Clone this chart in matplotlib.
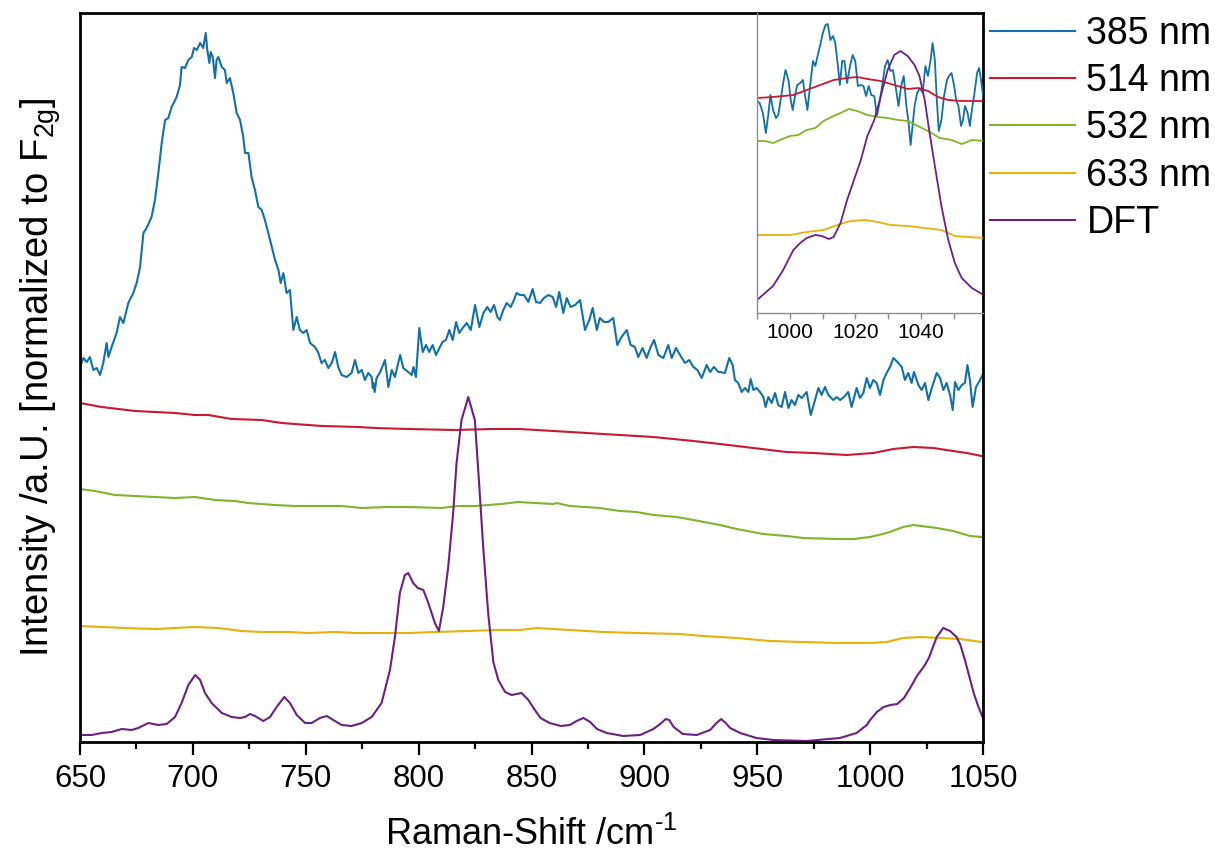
import matplotlib
matplotlib.use("Agg")
import matplotlib.pyplot as plt
from matplotlib.ticker import MultipleLocator

plt.rcParams['font.family'] = ['Liberation Sans', 'DejaVu Sans']
plt.rcParams['mathtext.fontset'] = 'custom'
plt.rcParams['mathtext.rm'] = 'Liberation Sans'
plt.rcParams['mathtext.it'] = 'Liberation Sans:italic'

# ---- main panel: spectra (offset, arbitrary units) ----
x_385 = [650.0, 651.5, 653.0, 654.4, 655.9, 657.4, 658.9, 660.3, 661.8, 662.6, 664.0, 666.2,
         667.7, 669.2, 671.4, 673.6, 675.1, 676.6, 678.1, 679.5, 681.7, 683.2, 684.7, 686.2,
         687.7, 689.1, 690.6, 692.8, 694.3, 695.0, 696.5, 698.0, 699.5, 700.5, 701.7, 703.2,
         704.6, 705.7, 706.4, 707.3, 707.9, 708.8, 709.8, 710.5, 711.3, 712.8, 714.2, 715.0,
         716.4, 717.9, 719.4, 720.9, 722.3, 723.1, 724.6, 726.0, 727.5, 729.0, 730.5, 731.9,
         734.2, 736.4, 737.9, 738.9, 740.1, 741.5, 743.0, 744.5, 746.0, 747.4, 748.9, 750.4,
         751.9, 754.1, 755.6, 757.0, 758.5, 760.0, 761.5, 763.0, 764.4, 765.9, 768.1, 770.3,
         771.8, 773.3, 774.8, 776.2, 777.7, 779.2, 779.7, 779.9, 780.5, 781.4, 783.0, 785.1,
         786.6, 788.1, 789.5, 791.8, 793.2, 795.4, 796.9, 797.7, 798.8, 800.3, 801.8, 803.3,
         804.7, 806.2, 807.7, 809.2, 810.6, 812.1, 813.6, 815.1, 816.6, 818.0, 819.5, 821.3,
         823.1, 825.0, 826.9, 828.7, 830.4, 831.9, 833.4, 834.9, 836.0, 837.5, 839.0, 840.8,
         842.2, 843.4, 844.9, 846.7, 848.6, 850.5, 852.0, 853.8, 855.5, 857.5, 859.4, 860.9,
         862.3, 864.1, 865.6, 867.3, 869.3, 871.5, 873.7, 875.6, 877.1, 878.9, 880.3, 882.1,
         884.0, 886.2, 888.0, 889.9, 892.2, 893.9, 895.8, 897.3, 899.2, 901.0, 902.8, 904.3,
         906.2, 908.4, 910.6, 912.1, 914.0, 915.8, 918.0, 919.9, 921.7, 923.5, 925.4, 927.6,
         929.1, 930.8, 932.8, 933.5, 935.7, 937.6, 939.1, 940.1, 941.6, 943.1, 944.6, 946.1,
         947.1, 948.3, 949.7, 951.2, 952.7, 953.7, 954.9, 956.4, 957.9, 959.3, 960.8, 962.3,
         963.8, 965.2, 966.7, 968.2, 969.7, 971.9, 973.7, 975.6, 977.1, 978.5, 980.0, 981.5,
         983.7, 985.2, 986.7, 988.4, 990.3, 991.8, 994.0, 995.5, 997.0, 998.5, 999.9, 1001.4,
         1002.9, 1004.4, 1005.9, 1007.3, 1008.8, 1010.3, 1012.1, 1014.0, 1015.4, 1016.9, 1018.4, 1019.4,
         1021.4, 1022.8, 1024.3, 1025.8, 1027.3, 1029.5, 1031.0, 1032.4, 1033.9, 1035.4, 1036.6, 1037.6,
         1039.1, 1040.6, 1042.0, 1043.1, 1044.2, 1045.4, 1046.9, 1048.7, 1050.0]
y_385 = [375, 384, 380, 385, 372, 374, 367, 379, 399, 385, 395, 409,
         425, 419, 439, 449, 459, 475, 509, 514, 525, 542, 569, 599,
         622, 624, 635, 645, 657, 675, 674, 682, 685, 694, 692, 699,
         694, 709, 692, 679, 690, 685, 664, 682, 685, 675, 672, 659,
         664, 649, 629, 622, 605, 589, 589, 565, 552, 535, 532, 522,
         502, 482, 472, 459, 469, 449, 452, 412, 425, 412, 409, 412,
         399, 395, 389, 379, 382, 374, 379, 390, 375, 367, 365, 369,
         382, 369, 372, 362, 369, 365, 354, 359, 350, 364, 370, 382,
         355, 372, 365, 387, 374, 370, 367, 375, 365, 414, 390, 397,
         390, 397, 387, 394, 400, 402, 412, 402, 420, 409, 414, 419,
         412, 437, 415, 429, 435, 430, 437, 425, 422, 432, 439, 435,
         442, 449, 447, 447, 440, 453, 440, 439, 444, 447, 445, 435,
         450, 429, 444, 435, 437, 442, 412, 422, 434, 412, 424, 420,
         420, 424, 397, 405, 412, 397, 395, 385, 394, 384, 395, 402,
         387, 384, 397, 384, 394, 387, 379, 382, 375, 372, 364, 377,
         370, 375, 370, 370, 369, 384, 377, 362, 359, 350, 354, 350,
         363, 352, 354, 350, 345, 335, 345, 339, 349, 337, 335, 350,
         334, 342, 337, 347, 344, 350, 327, 342, 354, 347, 355, 347,
         342, 345, 342, 345, 350, 335, 354, 344, 349, 364, 354, 362,
         359, 347, 362, 369, 375, 384, 380, 375, 362, 369, 359, 370,
         357, 352, 359, 342, 354, 369, 364, 352, 359, 347, 332, 360,
         352, 357, 359, 377, 362, 335, 355, 362, 368]

x_514 = [650.0, 659.6, 674.4, 692.1, 700.9, 706.8, 717.2, 730.5, 739.3, 757.1, 773.3, 780.7,
         795.4, 816.1, 832.4, 844.9, 859.7, 874.4, 889.2, 904.0, 912.8, 921.7, 933.5, 948.3,
         963.0, 974.8, 989.6, 1001.4, 1010.3, 1019.1, 1028.0, 1036.8, 1042.8, 1049.4]
y_514 = [339, 335, 331, 329, 327, 327, 323, 322, 319, 316, 315, 314,
         313, 312, 313, 313, 311, 309, 307, 305, 303, 301, 298, 294,
         290, 289, 287, 289, 293, 295, 294, 291, 289, 286]

x_532 = [650.0, 656.6, 665.5, 674.4, 683.2, 692.1, 700.9, 709.8, 718.6, 724.5, 736.3, 745.2,
         754.0, 765.9, 774.7, 786.5, 795.4, 810.1, 817.5, 824.9, 836.7, 844.1, 851.5, 859.7,
         861.1, 867.0, 880.3, 889.2, 896.6, 904.0, 914.3, 921.7, 933.5, 940.9, 952.7, 963.0,
         970.4, 985.2, 992.6, 1000.0, 1007.3, 1014.7, 1019.1, 1029.5, 1036.8, 1044.2, 1049.4]
y_532 = [253, 251, 247, 246, 245, 244, 245, 242, 241, 239, 237, 236,
         236, 236, 234, 235, 235, 234, 236, 236, 238, 240, 239, 238,
         239, 236, 234, 231, 230, 227, 225, 222, 217, 213, 208, 206,
         204, 203, 203, 205, 209, 215, 217, 214, 211, 206, 205]

x_633 = [650.0, 659.6, 669.9, 683.2, 692.1, 700.9, 711.2, 721.6, 730.5, 742.3, 751.1, 762.9,
         771.8, 780.7, 795.4, 807.2, 822.0, 833.8, 844.9, 852.3, 867.0, 881.8, 896.6, 915.8,
         926.1, 940.9, 955.6, 970.4, 985.2, 1000.0, 1007.3, 1014.7, 1022.1, 1030.9, 1039.8, 1049.4]
y_633 = [116, 115, 114, 113, 114, 115, 114, 111, 110, 110, 109, 110,
         109, 109, 109, 110, 111, 112, 112, 114, 112, 110, 109, 108,
         106, 104, 101, 100, 99, 99, 100, 104, 105, 104, 103, 100]

x_dft = [650.0, 655.2, 659.6, 664.0, 668.5, 672.9, 675.8, 680.3, 684.7, 688.4, 692.1, 695.0,
         698.0, 701.0, 703.2, 705.4, 708.3, 712.8, 717.2, 720.9, 723.1, 725.3, 727.5, 731.2,
         734.2, 737.1, 740.5, 743.0, 746.0, 749.7, 752.6, 756.3, 759.3, 762.2, 765.9, 770.3,
         774.8, 779.2, 783.6, 787.3, 789.5, 791.7, 793.9, 795.4, 797.6, 799.6, 802.1, 804.3,
         807.2, 809.0, 810.9, 813.1, 815.3, 816.8, 819.0, 822.0, 824.9, 826.7, 828.6, 830.8,
         833.1, 835.3, 838.3, 841.2, 845.6, 848.6, 851.5, 854.0, 858.0, 863.0, 867.0, 870.0,
         873.0, 876.0, 879.0, 883.3, 890.7, 898.1, 904.0, 907.0, 909.5, 911.0, 913.0, 917.0,
         923.2, 929.1, 932.0, 934.0, 936.0, 938.0, 942.4, 949.7, 957.1, 971.9, 986.6, 994.0,
         998.5, 1000.0, 1003.0, 1006.0, 1009.0, 1012.0, 1015.0, 1018.0, 1021.0, 1024.0, 1026.0, 1029.5,
         1032.4, 1035.4, 1038.3, 1040.0, 1042.0, 1044.0, 1046.0, 1048.0, 1050.0]
y_dft = [7, 7, 9, 10, 13, 12, 14, 19, 17, 18, 25, 39,
         57, 67, 62, 49, 39, 29, 25, 24, 25, 28, 26, 21,
         25, 35, 45, 39, 27, 19, 19, 24, 26, 22, 17, 16,
         19, 25, 39, 72, 105, 149, 167, 169, 159, 154, 152, 139,
         119, 111, 135, 175, 229, 279, 322, 345, 322, 262, 195, 129,
         80, 62, 50, 47, 49, 42, 32, 24, 19, 16, 17, 21,
         24, 20, 13, 9, 6, 7, 13, 18, 23, 22, 15, 8,
         7, 12, 19, 23, 19, 14, 9, 4, 2, 1, 4, 9,
         17, 22, 30, 35, 37, 38, 44, 55, 67, 76, 84, 105,
         114, 111, 105, 97, 82, 65, 48, 35, 24]

# ---- inset: 990-1059 cm-1, each trace rescaled ----
xi_385 = [990.0, 990.8, 991.8, 992.7, 993.4, 994.1, 994.9, 995.8, 996.5, 997.2, 998.0, 998.7,
          999.6, 1000.3, 1000.9, 1001.6, 1002.3, 1003.2, 1004.0, 1004.7, 1005.4, 1006.2, 1007.1, 1007.8,
          1008.5, 1009.3, 1010.1, 1010.9, 1011.6, 1012.4, 1013.2, 1013.9, 1014.7, 1015.3, 1016.0, 1016.7,
          1017.5, 1018.4, 1019.2, 1020.0, 1020.8, 1021.7, 1022.5, 1023.3, 1024.1, 1024.9, 1025.8, 1026.6,
          1027.4, 1028.2, 1029.1, 1029.9, 1030.7, 1031.5, 1032.3, 1033.2, 1034.0, 1034.8, 1035.6, 1036.2,
          1036.9, 1037.5, 1038.1, 1038.9, 1039.7, 1040.6, 1041.4, 1042.2, 1043.0, 1043.6, 1044.3, 1044.9,
          1045.5, 1046.3, 1047.1, 1048.0, 1048.6, 1049.4, 1050.2, 1050.8, 1051.5, 1052.3, 1052.9, 1053.5,
          1054.3, 1055.0, 1055.6, 1056.4, 1057.2, 1057.8, 1058.4, 1059.2]
yi_385 = [212, 210, 200, 180, 197, 218, 203, 195, 198, 213, 230, 243,
          233, 213, 203, 217, 228, 230, 233, 217, 203, 227, 252, 247,
          257, 268, 280, 288, 289, 273, 277, 270, 247, 228, 252, 252,
          230, 247, 258, 252, 227, 228, 227, 217, 227, 218, 217, 197,
          210, 227, 247, 253, 242, 243, 227, 207, 227, 237, 207, 193,
          168, 187, 207, 220, 225, 220, 247, 237, 253, 270, 253, 213,
          182, 193, 217, 233, 237, 240, 227, 213, 207, 187, 193, 207,
          200, 187, 203, 220, 240, 245, 233, 213]

xi_514 = [990.0, 994.9, 1001.1, 1005.2, 1009.3, 1013.4, 1017.5, 1020.6, 1023.7, 1027.8, 1031.9, 1034.0,
          1036.0, 1039.1, 1042.2, 1045.3, 1048.4, 1052.5, 1056.6, 1059.2]
yi_514 = [215, 216, 218, 223, 228, 233, 235, 236, 234, 232, 228, 226,
          224, 225, 222, 216, 213, 212, 212, 212]

xi_532 = [990.0, 992.4, 994.9, 997.0, 1000.1, 1002.6, 1005.2, 1007.8, 1010.3, 1013.4, 1015.5, 1018.1,
          1020.6, 1023.7, 1026.8, 1029.9, 1033.0, 1036.0, 1039.1, 1042.2, 1045.8, 1049.4, 1052.5, 1055.6,
          1059.2]
yi_532 = [172, 172, 170, 173, 177, 178, 183, 185, 192, 197, 200, 204,
          202, 198, 196, 195, 193, 192, 187, 182, 175, 173, 169, 173,
          172]

xi_633 = [990.0, 994.9, 1000.1, 1005.2, 1010.3, 1015.5, 1018.6, 1023.2, 1026.8, 1030.9, 1036.0, 1041.2,
          1046.3, 1050.4, 1054.5, 1059.2]
yi_633 = [78, 78, 78, 81, 83, 89, 92, 93, 91, 88, 87, 85,
          83, 77, 76, 75]

xi_dft = [990.0, 994.9, 998.0, 1001.1, 1003.2, 1005.2, 1007.8, 1009.8, 1011.9, 1013.4, 1015.5, 1017.5,
          1019.6, 1021.7, 1023.7, 1025.8, 1027.8, 1029.9, 1031.9, 1033.8, 1036.0, 1038.1, 1039.6, 1041.2,
          1042.7, 1044.3, 1046.3, 1048.4, 1050.4, 1052.5, 1055.6, 1059.2]
yi_dft = [13, 27, 43, 63, 70, 75, 78, 77, 74, 76, 90, 113,
          133, 153, 177, 193, 217, 243, 258, 262, 257, 248, 237, 213,
          180, 147, 107, 73, 50, 35, 25, 18]

labels = ['385 nm', '514 nm', '532 nm', '633 nm', 'DFT']
colors = ['#1170aa', '#c9182f', '#80b52b', '#e3b20b', '#6b2182']

main_series = [(x_385, y_385), (x_514, y_514), (x_532, y_532), (x_633, y_633), (x_dft, y_dft)]
inset_series = [(xi_385, yi_385), (xi_514, yi_514), (xi_532, yi_532), (xi_633, yi_633), (xi_dft, yi_dft)]

fig = plt.figure(figsize=(12.15, 8.58), dpi=100)
ax = fig.add_axes([80 / 1215, 116 / 858, 903 / 1215, 729 / 858])

for (xs, ys), lab, col in zip(main_series, labels, colors):
    ax.plot(xs, ys, color=col, linewidth=1.5, label=lab)

ax.set_xlim(650, 1050)
ax.set_ylim(0, 729)
ax.xaxis.set_major_locator(MultipleLocator(50))
ax.xaxis.set_minor_locator(MultipleLocator(25))
ax.set_yticks([])
ax.tick_params(axis='x', which='major', direction='out', length=9, width=1.6,
               labelsize=22.5, pad=7)
ax.tick_params(axis='x', which='minor', direction='out', length=5, width=1.6)
for s in ax.spines.values():
    s.set_linewidth(2.0)

ax.set_xlabel(r'Raman-Shift /cm$^{\text{-1}}$', fontsize=26, labelpad=16)
ax.set_ylabel(r'Intensity /a.U. [normalized to F$_{\mathrm{2g}}$]', fontsize=27.5, labelpad=12)

ax.legend(loc='upper left', bbox_to_anchor=(990 / 1215, 842 / 858),
          bbox_transform=fig.transFigure, frameon=False, fontsize=27,
          handlelength=2.27, handletextpad=0.3, borderaxespad=0, borderpad=0,
          labelspacing=0.3)

# inset
axi = fig.add_axes([757 / 1215, 545 / 858, 226 / 1215, 300 / 858], facecolor='none')
for (xs, ys), col in zip(inset_series, colors):
    axi.plot(xs, ys, color=col, linewidth=1.3)
axi.set_xlim(990, 1059)
axi.set_ylim(0, 300)
axi.xaxis.set_major_locator(MultipleLocator(20))
axi.xaxis.set_minor_locator(MultipleLocator(10))
axi.set_yticks([])
axi.spines['top'].set_visible(False)
axi.spines['right'].set_visible(False)
for side in ('left', 'bottom'):
    axi.spines[side].set_color('#8c8c8c')
    axi.spines[side].set_linewidth(1.0)
axi.tick_params(axis='x', which='both', direction='out', length=4, width=1.0,
                color='#8c8c8c', labelsize=15, pad=3)

fig.savefig('out.png', dpi=100)
